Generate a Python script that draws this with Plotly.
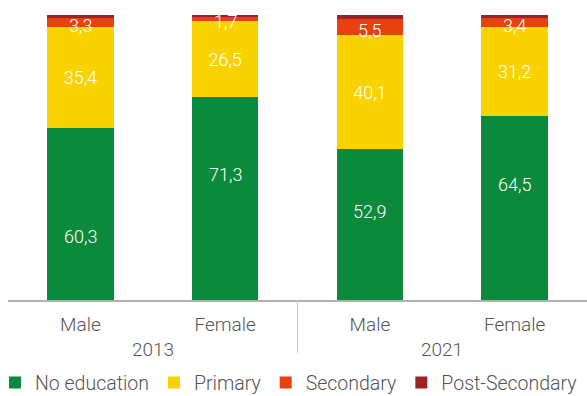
import plotly.graph_objects as go

years = ["2013", "2013", "2021", "2021"]
sexes = ["Male", "Female", "Male", "Female"]
categories = [f"{s} {y}" for s, y in zip(sexes, years)]
year_groups = ["2013", "2021"]

no_education = [60.3, 71.3, 52.9, 64.5]
primary = [35.4, 26.5, 40.1, 31.2]
secondary = [3.3, 1.7, 5.5, 3.4]
post_secondary = [1.0, 0.5, 1.5, 0.9]

# where each "No education" label sits, as a share of its segment height
no_edu_label_pos = [0.37, 0.62, 0.585, 0.63]

series = [
    ("No education", no_education, "#0a8a3a", False),
    ("Primary", primary, "#f9d300", True),
    ("Secondary", secondary, "#e8410f", False),
    ("Post-Secondary", post_secondary, "#9b2226", False),
]

FONT = "Roboto"
GREY = "#555555"
W = 300


def fmt(v):
    return f"{v:.1f}".replace(".", ",")


fig = go.Figure()
for name, vals, color, labelled in series:
    fig.add_trace(go.Bar(
        name=name,
        x=categories,
        y=vals,
        marker=dict(color=color, line=dict(width=0)),
        texttemplate="%{y:.1f}" if labelled else None,
        textposition="inside" if labelled else "none",
        insidetextanchor="middle",
        constraintext="none",
        textfont=dict(color="white", size=18, family=FONT, weight=W),
        hoverinfo="skip",
    ))

label_font = dict(size=18, color="white", family=FONT, weight=W)

# value labels on the "No education" segments
for cat, v, pos in zip(categories, no_education, no_edu_label_pos):
    fig.add_annotation(
        x=cat, y=v * pos, xref="x", yref="y",
        text=fmt(v), showarrow=False, font=label_font,
    )

# value labels on the thin "Secondary" segments, drawn above all bars
for cat, a, b, s in zip(categories, no_education, primary, secondary):
    fig.add_annotation(
        x=cat, y=a + b + s / 2, xref="x", yref="y", yshift=-3,
        text=fmt(s), showarrow=False, font=label_font,
    )

# year labels centred under each pair of bars
for i, yr in enumerate(year_groups):
    fig.add_annotation(
        x=2 * i + 0.5, xref="x", y=-0.175, yref="paper",
        text=yr, showarrow=False, yanchor="middle",
        font=dict(size=19, color=GREY, family=FONT, weight=W),
    )

# divider between the two survey years
fig.add_shape(
    type="line", xref="x", yref="paper",
    x0=1.5, x1=1.5, y0=0, y1=-0.185,
    line=dict(color="#c8c8c8", width=1),
)

fig.update_layout(
    barmode="stack",
    bargap=0.54,
    separators=",.",
    width=587, height=396,
    margin=dict(l=8, r=0, t=15, b=96, autoexpand=False),
    plot_bgcolor="white", paper_bgcolor="white",
    font=dict(family=FONT, color=GREY, size=16, weight=W),
    uniformtext=dict(mode="show", minsize=18),
    showlegend=True,
    legend=dict(
        orientation="h", x=-0.0225, xanchor="left", y=-0.291, yanchor="middle",
        font=dict(size=19.5, color=GREY, family=FONT, weight=W),
        itemwidth=30, traceorder="normal",
    ),
    xaxis=dict(
        type="category",
        tickvals=categories, ticktext=sexes,
        showline=True, linecolor="#b0b0b0", linewidth=2,
        showgrid=False, ticks="", automargin=False,
        ticklabelstandoff=6,
        tickfont=dict(size=19, color=GREY, family=FONT, weight=W),
    ),
    yaxis=dict(range=[0, 100], visible=False, showgrid=False, fixedrange=True),
)

fig.write_html("out.html")
